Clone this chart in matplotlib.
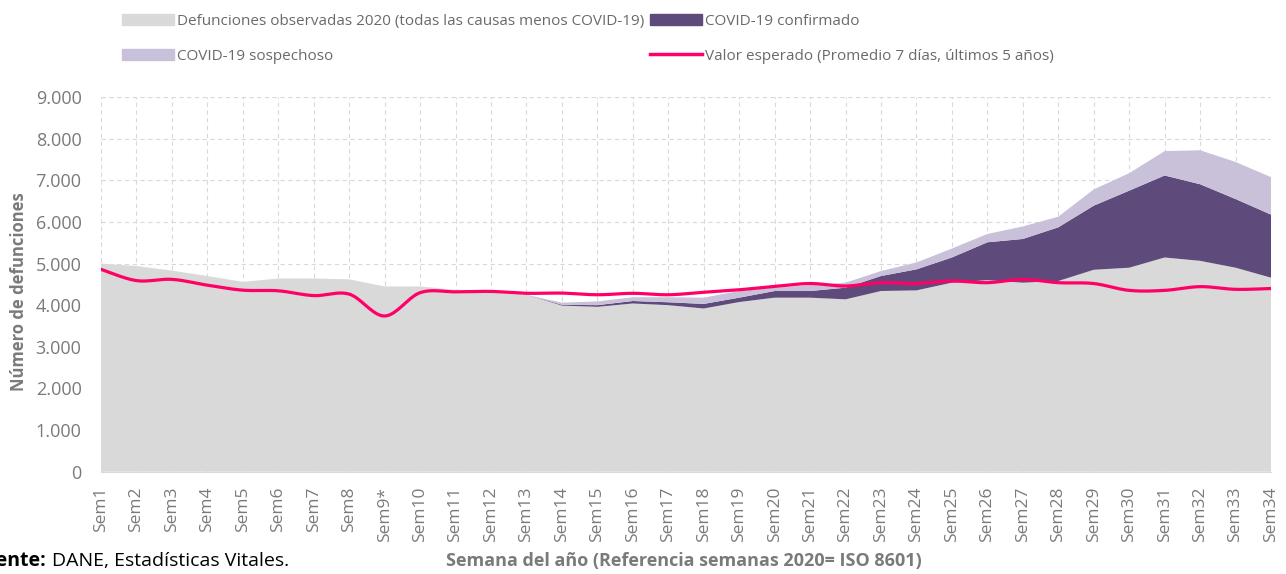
import numpy as np
import matplotlib
matplotlib.use("Agg")
from matplotlib import pyplot as plt
from matplotlib.lines import Line2D
from matplotlib.patches import Patch
from matplotlib.ticker import FuncFormatter, MultipleLocator

plt.rcParams['font.family'] = ['Open Sans', 'DejaVu Sans']

# Semanas 2020
semanas = ['Sem1', 'Sem2', 'Sem3', 'Sem4', 'Sem5', 'Sem6', 'Sem7', 'Sem8', 'Sem9*',
           'Sem10', 'Sem11', 'Sem12', 'Sem13', 'Sem14', 'Sem15', 'Sem16', 'Sem17',
           'Sem18', 'Sem19', 'Sem20', 'Sem21', 'Sem22', 'Sem23', 'Sem24', 'Sem25',
           'Sem26', 'Sem27', 'Sem28', 'Sem29', 'Sem30', 'Sem31', 'Sem32', 'Sem33', 'Sem34']

# defunciones no COVID
no_covid = [5000, 4940, 4830, 4700, 4560, 4640, 4640, 4620, 4450, 4450, 4370, 4340, 4250,
            3990, 3960, 4040, 4000, 3920, 4075, 4180, 4180, 4140, 4340, 4355, 4540,
            4600, 4540, 4580, 4850, 4900, 5145, 5065, 4900, 4660]
confirmado = [0, 0, 0, 0, 0, 0, 0, 0, 0, 0, 0, 0, 0,
              20, 40, 60, 70, 110, 105, 160, 160, 280, 360, 505, 605,
              910, 1050, 1290, 1540, 1850, 1970, 1840, 1650, 1515]
sospechoso = [0, 0, 0, 0, 0, 0, 0, 0, 0, 0, 0, 0, 0,
              50, 90, 90, 120, 150, 160, 80, 140, 120, 120, 165, 215,
              200, 300, 255, 390, 420, 585, 815, 890, 900]
esperado = [4860, 4590, 4620, 4480, 4360, 4345, 4230, 4265, 3740, 4300, 4320, 4330, 4285,
            4290, 4250, 4285, 4250, 4310, 4370, 4450, 4520, 4460, 4540, 4520, 4580,
            4540, 4620, 4540, 4520, 4355, 4355, 4445, 4380, 4400]


def suavizar(x, y, n=20):
    # curva suavizada tipo Excel (Bezier con tangentes Catmull-Rom)
    x = np.asarray(x, float)
    y = np.asarray(y, float)
    xs, ys = [], []
    t = np.linspace(0, 1, n)
    for i in range(len(x) - 1):
        x0, y0 = (x[i - 1], y[i - 1]) if i > 0 else (x[i], y[i])
        x3, y3 = (x[i + 2], y[i + 2]) if i + 2 < len(x) else (x[i + 1], y[i + 1])
        c1x = x[i] + (x[i + 1] - x0) / 6
        c1y = y[i] + (y[i + 1] - y0) / 6
        c2x = x[i + 1] - (x3 - x[i]) / 6
        c2y = y[i + 1] - (y3 - y[i]) / 6
        bx = (1 - t) ** 3 * x[i] + 3 * (1 - t) ** 2 * t * c1x + 3 * (1 - t) * t ** 2 * c2x + t ** 3 * x[i + 1]
        by = (1 - t) ** 3 * y[i] + 3 * (1 - t) ** 2 * t * c1y + 3 * (1 - t) * t ** 2 * c2y + t ** 3 * y[i + 1]
        xs.extend(bx)
        ys.extend(by)
    return np.array(xs), np.array(ys)


gris = '#d9d9d9'
morado = '#5f4b7b'
lila = '#c9c0da'
rojo = '#ff0066'
texto = '#7a7a7a'

fig = plt.figure(figsize=(12.86, 5.74), dpi=100)
ax = fig.add_axes([101 / 1286, (574 - 471.7) / 574, 1170 / 1286, 374.7 / 574])

x = np.arange(len(semanas))
ax.stackplot(x, no_covid, confirmado, sospechoso, colors=[gris, morado, lila], lw=0)
xs, ys = suavizar(x, esperado)
ax.plot(xs, ys, color=rojo, lw=2.3, solid_capstyle='round')

ax.set_xlim(0, len(semanas) - 1)
ax.set_ylim(0, 9000)
ax.yaxis.set_major_locator(MultipleLocator(1000))
ax.yaxis.set_major_formatter(FuncFormatter(lambda v, p: f'{int(v):,}'.replace(',', '.')))
ax.set_xticks(x, semanas, rotation=90)
ax.set_axisbelow(True)
ax.grid(True, color=gris, ls=(0, (4, 3)), lw=0.8)
ax.tick_params(axis='y', length=0, labelsize=13, colors=texto, pad=14)
ax.tick_params(axis='x', length=0, labelsize=12.5, colors=texto, pad=11)
for s in ['top', 'right', 'left']:
    ax.spines[s].set_visible(False)
ax.spines['bottom'].set_color(gris)

fig.text(19 / 1286, 1 - 292 / 574, 'Número de defunciones', rotation=90, ha='center', va='center',
         fontsize=12, fontweight='bold', color=texto)
fig.text(684 / 1286, (574 - 561) / 574, 'Semana del año (Referencia semanas 2020= ISO 8601)',
         ha='center', va='center', fontsize=13, fontweight='bold', color=texto)

fig.text(46 / 1286, (574 - 561) / 574, 'Fuente:', ha='right', va='center',
         fontsize=14, fontweight='bold', color='black')
fig.text(52 / 1286, (574 - 561) / 574, 'DANE, Estadísticas Vitales.', ha='left', va='center',
         fontsize=14, color='black')

handles = [Patch(color=gris), Patch(color=lila), Patch(color=morado),
           Line2D([], [], color=rojo, lw=2.5)]
labels = ['Defunciones observadas 2020 (todas las causas menos COVID-19)', 'COVID-19 sospechoso',
          'COVID-19 confirmado', 'Valor esperado (Promedio 7 días, últimos 5 años)']
leg = fig.legend(handles, labels, ncol=2, loc='upper left', bbox_to_anchor=(108 / 1286, 1.0),
                 frameon=False, fontsize=11, handlelength=3.4, handleheight=0.7,
                 handletextpad=0.2, columnspacing=0.4, labelspacing=1.3, labelcolor='#6a6a6a')

fig.savefig('out.png', dpi=100)
